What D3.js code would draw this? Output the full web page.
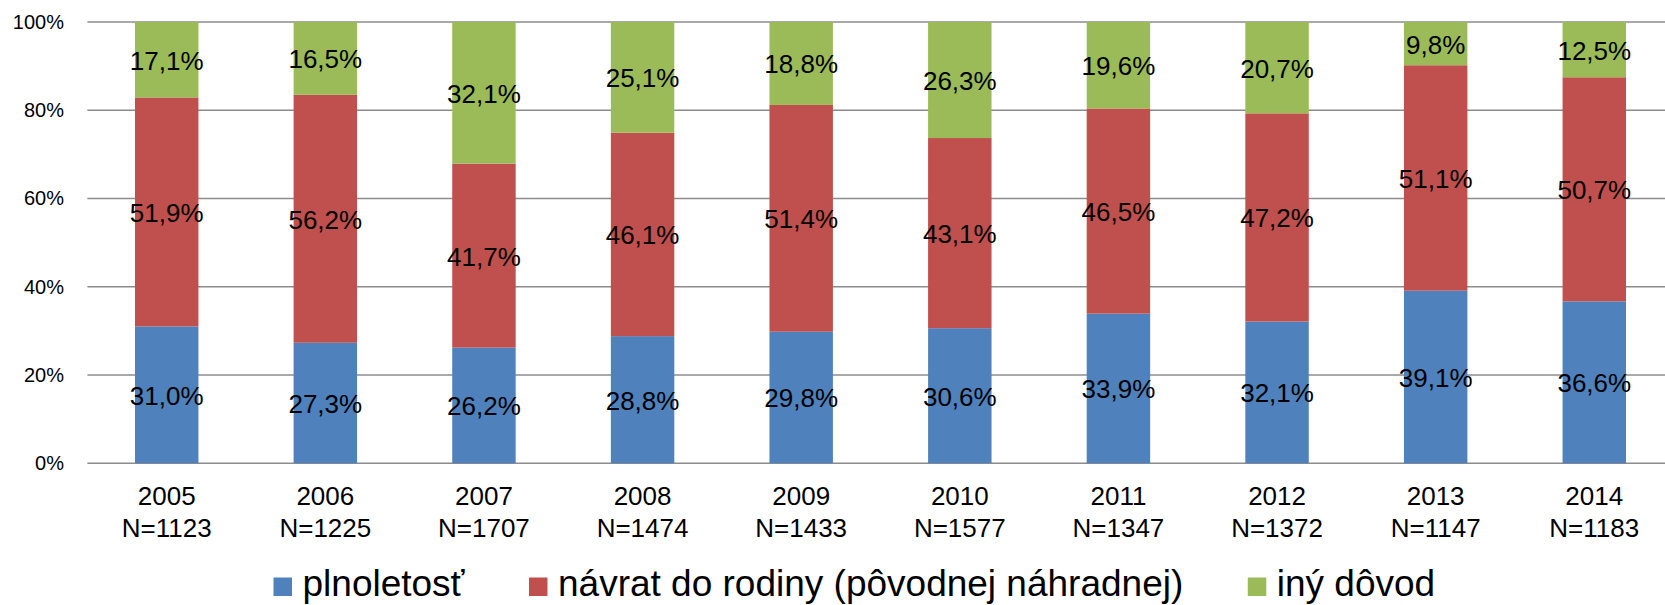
<!DOCTYPE html>
<html>
<head>
<meta charset="utf-8">
<script src="https://cdn.jsdelivr.net/npm/d3@7"></script>
<style>
  html, body { margin: 0; padding: 0; background: #fff; }
  svg { display: block; font-family: "Liberation Sans", Arial, sans-serif; }
</style>
</head>
<body>
<svg id="chart" width="1665" height="605"></svg>
<script>
const years = ["2005","2006","2007","2008","2009","2010","2011","2012","2013","2014"];
const counts = ["N=1123","N=1225","N=1707","N=1474","N=1433","N=1577","N=1347","N=1372","N=1147","N=1183"];
const plnoletost = [31.0, 27.3, 26.2, 28.8, 29.8, 30.6, 33.9, 32.1, 39.1, 36.6];
const navrat     = [51.9, 56.2, 41.7, 46.1, 51.4, 43.1, 46.5, 47.2, 51.1, 50.7];
const iny        = [17.1, 16.5, 32.1, 25.1, 18.8, 26.3, 19.6, 20.7,  9.8, 12.5];
const seriesNames = ["plnoletosť", "návrat do rodiny (pôvodnej náhradnej)", "iný dôvod"];
const seriesColors = ["#4F81BD", "#C0504D", "#9BBB59"];
const yTicks = [0, 20, 40, 60, 80, 100];

const svg = d3.select("#chart");
const plotLeft = 87.4, plotTop = 22, plotBottom = 463.2, gridRight = 1665;
const step = 158.62;

const x = d3.scaleBand()
  .domain(years)
  .range([plotLeft, plotLeft + step * years.length])
  .paddingInner(0.6)
  .paddingOuter(0.3);

const y = d3.scaleLinear().domain([0, 100]).range([plotBottom, plotTop]);

// gridlines
svg.append("g")
  .selectAll("line")
  .data(yTicks)
  .join("line")
  .attr("x1", plotLeft).attr("x2", gridRight)
  .attr("y1", d => y(d)).attr("y2", d => y(d))
  .attr("stroke", "#8c8c8c").attr("stroke-width", 1.5);

// y tick labels
svg.append("g")
  .selectAll("text")
  .data(yTicks)
  .join("text")
  .attr("x", 64).attr("y", d => y(d) + 7)
  .attr("text-anchor", "end")
  .attr("font-size", 20)
  .attr("fill", "#000")
  .text(d => d + "%");

// stacked data (100% stacked)
const rows = years.map((yr, i) => {
  const vals = [plnoletost[i], navrat[i], iny[i]];
  const total = d3.sum(vals);
  return { year: yr, vals, total };
});
const keys = [0, 1, 2];
const stack = d3.stack()
  .keys(keys)
  .value((d, k) => d.vals[k] / d.total * 100);
const stacked = stack(rows);

const fmt = v => v.toFixed(1).replace(".", ",") + "%";

const layers = svg.append("g").selectAll("g")
  .data(stacked)
  .join("g")
  .attr("fill", (d, i) => seriesColors[i]);

layers.selectAll("rect")
  .data(d => d)
  .join("rect")
  .attr("x", d => x(d.data.year))
  .attr("width", x.bandwidth())
  .attr("y", d => y(d[1]))
  .attr("height", d => y(d[0]) - y(d[1]));

// data labels
const labels = svg.append("g");
stacked.forEach((layer, si) => {
  labels.selectAll(null)
    .data(layer)
    .join("text")
    .attr("x", d => x(d.data.year) + x.bandwidth() / 2)
    .attr("y", d => (y(d[0]) + y(d[1])) / 2 + 10)
    .attr("text-anchor", "middle")
    .attr("font-size", 26)
    .attr("fill", "#000")
    .text(d => fmt(d.data.vals[si]));
});

// x axis labels
const xl = svg.append("g");
xl.selectAll(null).data(years).join("text")
  .attr("x", d => x(d) + x.bandwidth() / 2)
  .attr("y", 504.5)
  .attr("text-anchor", "middle")
  .attr("font-size", 26)
  .text(d => d);
xl.selectAll(null).data(counts).join("text")
  .attr("x", (d, i) => x(years[i]) + x.bandwidth() / 2)
  .attr("y", 537)
  .attr("text-anchor", "middle")
  .attr("font-size", 26)
  .text(d => d);

// legend
const legend = svg.append("g");
let lx = 273.5;
seriesNames.forEach((name, i) => {
  legend.append("rect")
    .attr("x", lx).attr("y", 577.5)
    .attr("width", 18.5).attr("height", 18.5)
    .attr("fill", seriesColors[i]);
  const t = legend.append("text")
    .attr("x", lx + 29).attr("y", 596)
    .attr("font-size", 37)
    .text(name);
  const w = t.node().getComputedTextLength();
  lx = lx + 29 + w + 64.5;
});
</script>
</body>
</html>
